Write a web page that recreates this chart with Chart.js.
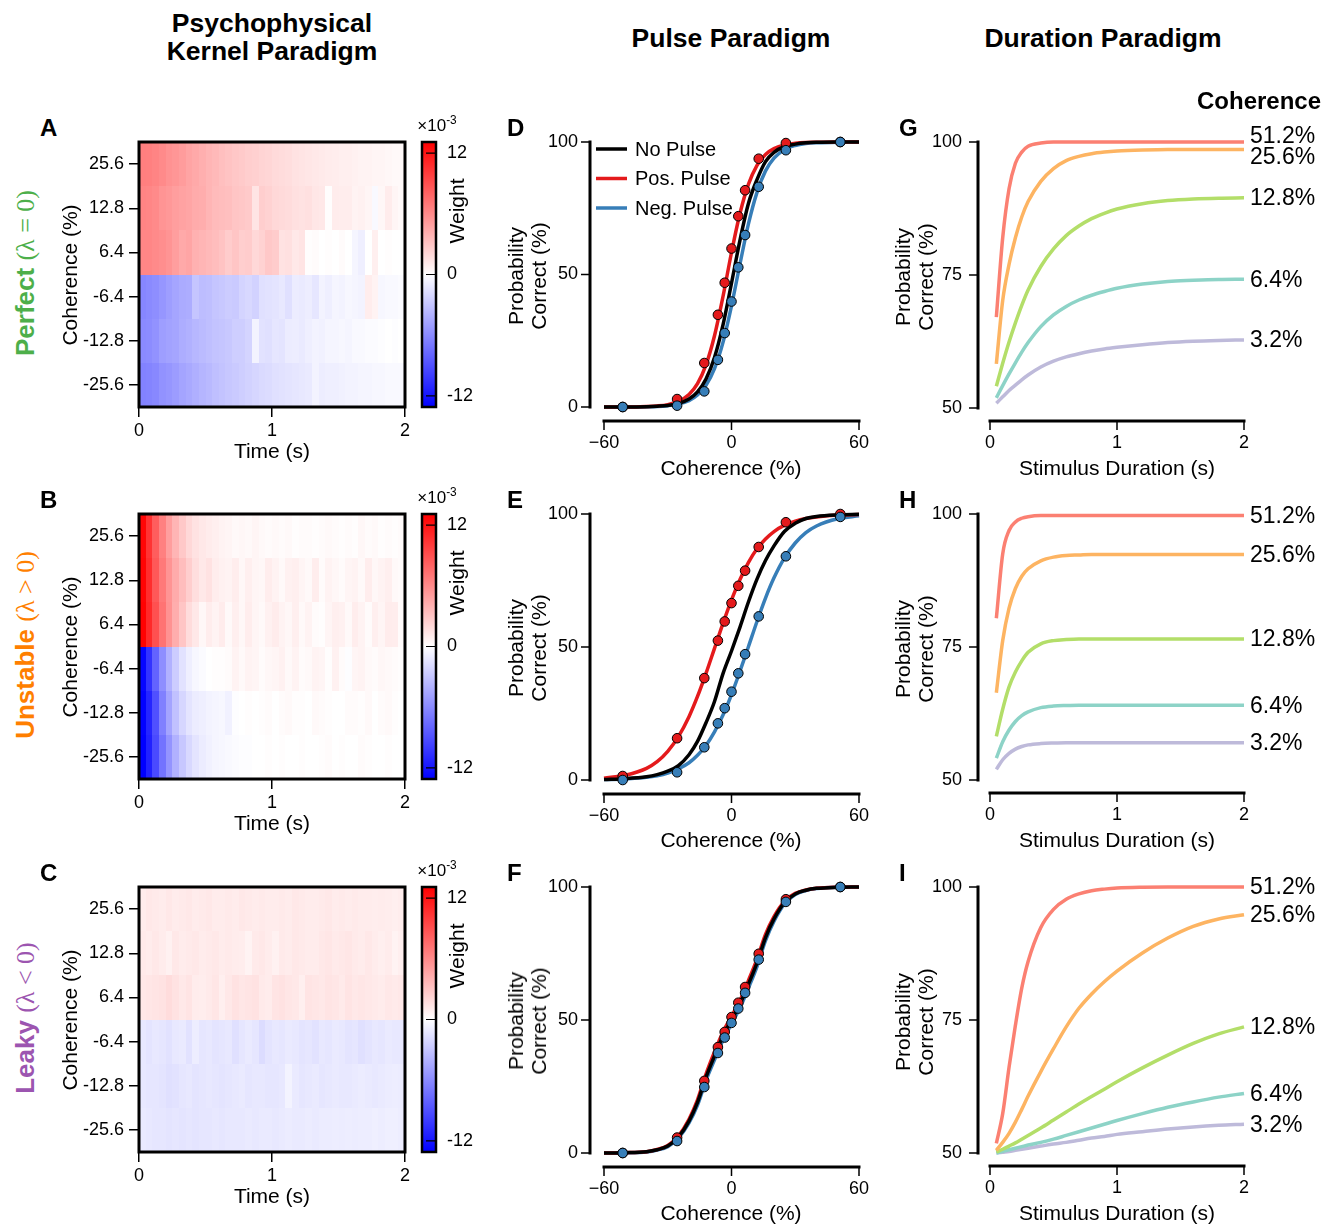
<!DOCTYPE html>
<html><head><meta charset="utf-8">
<script src="https://cdn.jsdelivr.net/npm/chart.js"></script>
<style>
body{margin:0;background:#fff;}
#page{position:relative;width:1329px;height:1224px;font-family:'Liberation Sans',Arial,Helvetica,sans-serif;color:#000;overflow:hidden;background:#fff}
.t{position:absolute;white-space:nowrap;transform:translate(-50%,-50%);line-height:1}
.l{position:absolute;white-space:nowrap;transform:translate(0,-50%);line-height:1}
.r{position:absolute;white-space:nowrap;transform:translate(-50%,-50%) rotate(-90deg);line-height:1;text-align:center}
canvas{position:absolute}
sup{font-size:0.7em;vertical-align:0.55em;line-height:0}
</style></head>
<body><div id="page"></div>
<script>
// ---------------- DATA ----------------
// Heatmap (psychophysical kernel) — weights in units of 1e-3, 40 time bins of 0.05 s
const timeBins = [0,0.05,0.1,0.15,0.2,0.25,0.3,0.35,0.4,0.45,0.5,0.55,0.6,0.65,0.7,0.75,0.8,0.85,0.9,0.95,1.0,1.05,1.1,1.15,1.2,1.25,1.3,1.35,1.4,1.45,1.5,1.55,1.6,1.65,1.7,1.75,1.8,1.85,1.9,1.95];
const binWidth = 0.05;
const heatRowLabels = ['25.6','12.8','6.4','-6.4','-12.8','-25.6'];
const heatRowPos = [2.5,1.5,0.5,-0.5,-1.5,-2.5];
const cbTicks = [12,0,-12];
const cbMax = 13.1;

const perfect256 = [6.6,6.5,6.3,6.0,5.6,5.4,5.1,4.7,4.4,4.1,3.8,3.6,3.3,3.1,2.9,2.7,2.5,2.4,2.2,2.1,1.9,1.8,1.7,1.5,1.4,1.3,1.2,1.1,1.0,0.9,0.8,0.8,0.7,0.6,0.6,0.5,0.5,0.4,0.3,0.3];
const perfect128 = [6.3,6.2,6.0,5.5,5.3,5.0,4.8,4.6,4.3,4.2,3.8,3.5,3.4,3.3,3.0,2.9,2.7,1.4,2.5,2.3,2.0,1.9,1.8,1.6,1.5,1.6,1.3,1.2,0.1,1.0,0.9,0.9,0.6,0.7,0.5,-0.3,0.4,1.0,0.5,0.3];
const perfect64 = [6.2,6.2,6.0,5.8,5.5,5.0,4.4,4.6,4.0,3.8,3.6,3.4,3.1,2.6,3.0,2.5,2.6,2.0,2.3,2.8,2.6,1.5,1.6,1.2,1.4,0.1,0.2,0.0,0.1,0.0,0.2,0.0,-0.5,-0.8,0.0,0.8,0.0,0.1,0.0,0.0];
const perfectM64 = [-6.2,-6.0,-5.8,-5.4,-5.0,-4.6,-4.3,-4.2,-3.0,-3.4,-3.3,-3.0,-2.8,-2.6,-2.7,-2.2,-2.0,-2.3,-1.6,-1.5,-1.4,-1.2,-1.6,-1.0,-1.1,-0.9,-1.3,-0.6,-0.8,-0.5,-0.6,-0.4,-0.5,-0.6,0.9,0.6,-0.4,-0.3,-0.3,-0.2];
const perfectM128 = [-6.0,-5.9,-5.6,-5.0,-4.8,-4.6,-4.2,-4.0,-3.7,-3.5,-3.3,-3.1,-3.0,-2.8,-2.5,-2.5,-2.2,-0.6,-1.5,-1.6,-1.3,-1.4,-1.0,-0.9,-1.1,-0.8,-0.6,-0.7,-0.5,-0.5,-0.4,-0.5,-0.3,-0.3,-0.2,-0.2,-0.1,0.0,-0.1,0.0];
const perfectM256 = [-6.4,-6.3,-6.1,-5.6,-5.4,-5.1,-4.7,-4.4,-4.1,-3.8,-3.6,-3.3,-3.1,-2.9,-2.7,-2.5,-2.3,-2.1,-1.9,-1.8,-1.6,-1.5,-1.4,-1.3,-1.2,-1.1,-0.6,-0.9,-0.8,-0.8,-0.7,-0.6,-0.6,-0.5,-0.5,-0.4,-0.4,-0.3,-0.3,-0.3];

const unstable256 = [12.8,10.5,8.3,6.5,5.0,3.8,2.8,2.0,1.5,1.2,1.0,0.8,0.6,0.5,0.3,0.4,0.3,0.5,0.3,0.2,0.3,0.2,0.3,0.1,0.2,0.2,0.1,0.2,0.3,0.2,0.1,0.2,0.1,0.4,0.2,0.3,0.1,0.2,0.1,0.2];
const unstable128 = [12.9,10.8,8.6,6.9,5.5,4.3,3.4,2.5,1.7,1.2,1.5,0.9,0.7,0.6,0.9,0.4,0.8,0.5,0.4,0.9,0.6,0.3,0.7,0.8,0.5,0.3,0.9,0.2,0.6,0.4,0.2,0.5,0.6,0.3,0.9,0.4,0.6,0.8,0.3,0.2];
const unstable64 = [13.0,11.0,9.0,7.2,5.6,4.2,3.0,1.8,1.2,0.4,0.9,0.6,1.0,0.3,0.8,0.4,0.9,0.5,0.3,0.7,1.0,0.6,0.4,0.8,0.3,0.6,0.2,0.1,0.5,0.8,0.7,0.3,0.9,0.6,0.2,0.8,0.5,1.0,0.9,0.2];
const unstableM64 = [-12.8,-10.5,-8.0,-5.8,-4.0,-2.6,-1.5,-0.8,-0.4,-0.2,0.0,0.1,0.1,0.2,0.6,0.3,0.6,0.5,0.2,0.4,0.5,0.7,0.3,0.6,0.2,0.3,0.6,0.5,0.1,0.7,0.2,-0.1,0.5,0.6,0.3,0.2,0.4,0.3,0.2,0.1];
const unstableM128 = [-13.0,-11.2,-9.0,-6.5,-4.7,-3.2,-2.1,-1.4,-1.0,-0.8,-0.6,-0.5,-0.4,-0.7,-0.1,0.0,0.1,0.0,0.1,0.2,0.0,0.2,0.3,0.1,0.1,0.0,0.3,0.2,0.1,0.0,0.0,0.2,0.2,0.1,0.3,0.0,0.2,0.3,0.1,0.0];
const unstableM256 = [-13.1,-11.4,-9.3,-7.2,-5.5,-4.0,-2.9,-2.0,-1.4,-1.0,-0.7,-0.5,-0.4,-0.3,-0.2,-0.1,-0.1,0.0,0.0,0.1,0.0,0.1,0.0,0.0,0.1,0.0,0.0,0.1,0.2,0.0,0.1,0.0,0.0,0.2,0.1,0.0,0.0,0.1,0.0,0.0];

const leaky256 = [1.0,1.2,1.1,1.0,1.2,1.0,1.1,1.2,1.0,1.1,1.2,1.0,1.0,1.1,1.0,1.2,1.1,1.0,1.1,1.0,1.0,1.1,1.0,1.2,1.1,1.0,1.0,1.1,1.2,1.0,1.1,1.0,1.1,1.0,1.0,0.9,1.0,0.9,0.8,0.9];
const leaky128 = [1.1,1.0,1.2,1.0,0.7,1.2,1.0,1.1,1.2,1.0,1.1,1.2,1.0,1.1,1.0,0.9,0.6,1.1,1.2,1.0,0.7,1.1,1.0,1.2,1.1,1.0,1.0,1.2,1.3,1.1,1.2,1.3,1.1,1.0,1.2,1.0,0.8,1.0,0.6,0.8];
const leaky64 = [1.2,1.3,1.4,1.5,1.8,1.5,1.2,1.4,1.0,0.9,1.1,1.3,0.8,1.2,1.5,1.3,1.4,1.5,1.1,1.0,1.4,1.5,1.3,1.2,0.8,1.4,1.3,1.2,1.4,1.3,1.1,1.4,1.2,1.3,1.2,1.1,1.0,1.2,1.1,1.2];
const leakyM64 = [-1.2,-1.4,-1.2,-1.3,-1.5,-1.2,-1.1,-1.5,-0.9,-1.3,-1.2,-1.4,-1.3,-1.2,-1.6,-1.3,-1.1,-1.3,-1.8,-1.4,-1.2,-1.3,-1.1,-1.2,-1.4,-1.3,-1.5,-1.2,-1.3,-1.1,-1.2,-1.4,-1.3,-1.6,-1.4,-1.2,-1.3,-1.1,-1.2,-1.2];
const leakyM128 = [-1.2,-1.3,-1.3,-1.4,-1.6,-1.5,-1.3,-1.2,-1.4,-1.3,-1.2,-1.3,-1.4,-1.3,-1.2,-1.1,-1.3,-1.2,-1.2,-1.3,-1.3,-1.2,-0.6,-1.1,-1.3,-1.2,-1.1,-1.3,-1.2,-1.1,-1.2,-1.2,-1.1,-1.0,-1.1,-1.2,-1.1,-1.0,-0.9,-1.0];
const leakyM256 = [-1.1,-1.2,-1.3,-1.3,-1.4,-1.3,-1.4,-1.3,-1.4,-1.3,-1.3,-1.2,-1.3,-1.2,-1.2,-1.2,-1.1,-1.2,-1.1,-1.1,-1.2,-1.1,-1.0,-1.1,-1.1,-1.0,-1.1,-1.0,-1.0,-0.9,-1.0,-0.9,-1.0,-0.9,-0.9,-0.8,-0.9,-0.8,-0.8,-0.9];

// Pulse paradigm — psychometric curves (% correct vs coherence)
const cohGrid = [-60,-50,-40,-35,-30,-25,-20,-16,-12,-8,-4,0,4,8,12,16,20,25,30,35,40,50,60];
const dotCoh = [-51.2,-25.6,-12.8,-6.4,-3.2,0,3.2,6.4,12.8,25.6,51.2];
const pulseTicksX = [-60,0,60];
const pulseTicksY = [0,50,100];

const perfectNoPulse = [0,0,0.1,0.3,0.6,1.3,3.0,5.7,10.6,18.7,31.0,46.7,63.0,76.9,85.8,92.6,96.1,98.3,99.2,99.7,99.9,100,100];
const perfectPosPulse = [0,0,0.2,0.4,0.9,2.1,4.7,8.8,15.9,26.9,41.7,58.3,73.1,84.1,91.2,95.3,97.5,98.9,99.5,99.8,99.9,100,100];
const perfectNegPulse = [0,0,0.1,0.2,0.5,1.1,2.4,4.5,8.2,14.5,24.4,38.2,54.0,69.2,81.0,89.1,93.9,97.2,98.7,99.4,99.7,99.95,100];
const perfectPosDots = [0,3.0,16.6,34.8,46.9,59.8,72.0,81.8,93.7,99.6,100];
const perfectNegDots = [0,0.5,5.9,17.8,27.9,39.8,52.7,64.9,83.1,96.9,100];

const unstableNoPulse = [0.2,0.5,1.2,2.0,3.3,5.4,9.5,14.5,21.5,29.5,40.0,48.5,57.5,67.0,75.5,82.5,88.0,93.5,96.5,98.3,99.1,99.7,99.9];
const unstablePosPulse = [0.7,1.8,4.4,6.9,10.8,16.3,23.8,31.4,40.1,49.5,58.9,67.7,75.4,81.8,86.9,90.6,93.4,95.8,97.3,98.3,98.9,99.6,99.8];
const unstableNegPulse = [0.15,0.4,1.0,1.6,2.6,4.2,6.5,9.3,13.0,18.1,24.4,32.1,40.9,50.2,59.6,68.4,76.0,83.6,89.1,93.0,95.5,98.2,99.3];
const unstablePosDots = [1.5,15.7,38.3,52.4,59.6,66.5,73.0,78.7,87.6,96.9,100];
const unstableNegDots = [0,2.9,12.3,21.3,27.0,33.2,40.1,47.3,61.5,84.1,98.9];

const leakyNoPulse = [0,0.1,0.5,1.2,2.6,6.0,12.0,19.0,28.5,36.5,44.0,50.0,56.0,63.5,71.5,81.0,88.0,94.2,97.4,98.8,99.5,99.9,100];
const leakyPosPulse = [0,0.1,0.5,1.3,2.8,6.4,12.7,20.0,29.7,38.0,45.5,51.4,57.4,64.9,72.9,82.2,88.9,94.7,97.6,98.9,99.5,99.9,100];
const leakyNegPulse = [0,0.1,0.4,1.1,2.4,5.6,11.3,18.0,27.3,35.0,42.5,48.6,54.6,62.1,70.1,79.8,87.1,93.7,97.2,98.7,99.4,99.9,100];
const leakyPosDots = [0,5.8,27.1,39.8,45.5,51.1,56.5,62.4,74.9,95.4,100];
const leakyNegDots = [0,4.5,24.8,37.6,43.4,48.9,54.3,60.2,72.7,94.4,100];

// Duration paradigm — % correct vs stimulus duration
const durGrid = [0.05,0.1,0.15,0.2,0.25,0.3,0.4,0.5,0.6,0.7,0.8,0.9,1.0,1.2,1.4,1.6,1.8,2.0];
const durLabels = ['51.2%','25.6%','12.8%','6.4%','3.2%'];
const durTicksX = [0,1,2];
const durTicksY = [50,75,100];

const perfectDur512 = [67.1,82.0,91.2,96.0,98.1,99.2,99.8,100,100,100,100,100,100,100,100,100,100,100];
const perfectDur256 = [58.3,70.2,77.0,82.0,85.9,88.8,92.6,95.0,96.5,97.3,97.8,98.1,98.3,98.5,98.6,98.6,98.6,98.6];
const perfectDur128 = [54.1,58.4,62.4,66.0,69.3,72.2,76.6,79.9,82.4,84.2,85.6,86.6,87.4,88.4,89.0,89.3,89.45,89.5];
const perfectDur64 = [51.9,54.2,56.4,58.5,60.5,62.3,65.3,67.5,69.1,70.3,71.2,71.9,72.5,73.3,73.8,74.0,74.15,74.2];
const perfectDur32 = [50.9,52.1,53.3,54.3,55.3,56.2,57.7,58.8,59.6,60.2,60.7,61.1,61.4,61.9,62.3,62.55,62.7,62.8];

const unstableDur512 = [80.4,92.5,96.9,98.5,99.2,99.5,99.7,99.7,99.7,99.7,99.7,99.7,99.7,99.7,99.7,99.7,99.7,99.7];
const unstableDur256 = [66.4,76.2,82.3,86.0,88.3,89.7,91.2,91.9,92.2,92.3,92.4,92.4,92.4,92.4,92.4,92.4,92.4,92.4];
const unstableDur128 = [58.2,63.3,67.5,70.3,72.4,74.0,75.6,76.2,76.4,76.5,76.5,76.5,76.5,76.5,76.5,76.5,76.5,76.5];
const unstableDur64 = [54.1,57.2,59.4,61.0,62.1,62.8,63.6,63.9,64.0,64.05,64.05,64.05,64.05,64.05,64.05,64.05,64.05,64.05];
const unstableDur32 = [52.0,53.8,55.0,55.8,56.3,56.6,56.85,56.95,57.0,57.0,57.0,57.0,57.0,57.0,57.0,57.0,57.0,57.0];

const leakyDur512 = [51.8,57.4,66.1,74.0,81.0,86.0,92.4,95.8,97.7,98.7,99.3,99.6,99.8,99.95,100,100,100,100];
const leakyDur256 = [50.5,52.0,53.7,55.8,58.2,60.7,65.3,69.6,73.7,77.2,79.9,82.2,84.2,87.6,90.4,92.6,94.0,94.8];
const leakyDur128 = [50.2,50.7,51.3,51.9,52.6,53.3,54.7,56.2,57.7,59.2,60.6,62.0,63.4,66.0,68.4,70.6,72.4,73.7];
const leakyDur64 = [50.0,50.3,50.6,50.9,51.2,51.5,52.0,52.6,53.3,54.0,54.7,55.4,56.1,57.4,58.6,59.6,60.5,61.2];
const leakyDur32 = [50.0,50.15,50.3,50.5,50.7,50.9,51.3,51.7,52.0,52.4,52.8,53.1,53.5,54.0,54.5,54.9,55.2,55.4];

// ---------------- STYLE ----------------
const RED = '#e41a1c', BLUE = '#377eb8';
const durColors = ['#fb8072','#fdb462','#b3de69','#8dd3c7','#bebada'];
const FONT = "'Liberation Sans', Arial, Helvetica, sans-serif";
Chart.defaults.font.family = FONT;
Chart.defaults.color = '#000';
Chart.defaults.animation = false;
Chart.defaults.plugins.legend.display = false;
Chart.defaults.plugins.tooltip.enabled = false;

const page = document.getElementById('page');
function mkCanvas(x, y, w, h) {
  const c = document.createElement('canvas');
  c.width = w; c.height = h;
  c.style.left = x + 'px'; c.style.top = y + 'px';
  c.style.width = w + 'px'; c.style.height = h + 'px';
  page.appendChild(c);
  return c.getContext('2d');
}
function txt(html, x, y, css, cls) {
  const d = document.createElement('div');
  d.className = cls || 't';
  d.innerHTML = html;
  d.style.cssText += 'left:' + x + 'px;top:' + y + 'px;' + (css || '');
  page.appendChild(d);
  return d;
}
function cmap(v) {
  const f = Math.min(1, Math.abs(v) / cbMax);
  const c = Math.round(255 * (1 - f));
  return v >= 0 ? `rgb(255,${c},${c})` : `rgb(${c},${c},255)`;
}
const pts = (xs, ys) => xs.map((x, i) => ({x: x, y: ys[i]}));
const fixedTicks = arr => function(s) { s.ticks = arr.map(v => ({value: v})); };
const fitV = w => function(s) { s.width = w; s.paddingTop = 0; s.paddingBottom = 0; };
const fitH = h => function(s) { s.height = h; s.paddingLeft = 0; s.paddingRight = 0; };

// ---------------- HEATMAPS ----------------
function heatmap(x0, y0, rows) {
  const ctx = mkCanvas(x0, y0, 405, 322);
  const heat = {
    id: 'heat',
    beforeDatasetsDraw(chart) {
      const c = chart.ctx, xs = chart.scales.x, ys = chart.scales.y;
      c.save();
      rows.forEach((row, r) => {
        const yt = Math.round(ys.getPixelForValue(heatRowPos[r] + 0.5));
        const yb = Math.round(ys.getPixelForValue(heatRowPos[r] - 0.5));
        row.forEach((v, i) => {
          const xl = Math.round(xs.getPixelForValue(timeBins[i]));
          const xr = Math.round(xs.getPixelForValue(timeBins[i] + binWidth));
          c.fillStyle = cmap(v);
          c.fillRect(xl, yt, xr - xl, yb - yt);
        });
      });
      c.restore();
    },
    afterDraw(chart) {
      const c = chart.ctx, a = chart.chartArea, cb = chart.scales.cb;
      c.save();
      c.strokeStyle = '#000';
      c.lineWidth = 3;
      c.strokeRect(a.left, a.top, a.right - a.left, a.bottom - a.top);
      // colorbar
      const bl = a.right + 17, bw = 14;
      const bt = cb.getPixelForValue(cb.max), bb = cb.getPixelForValue(cb.min);
      const g = c.createLinearGradient(0, bt, 0, bb);
      g.addColorStop(0, cmap(cbMax)); g.addColorStop(0.5, cmap(0)); g.addColorStop(1, cmap(-cbMax));
      c.fillStyle = g;
      c.fillRect(bl, bt, bw, bb - bt);
      c.lineWidth = 1.2;
      c.beginPath();
      cb.ticks.forEach(t => { const y = cb.getPixelForValue(t.value); c.moveTo(bl + 4, y); c.lineTo(bl + bw, y); });
      c.stroke();
      c.lineWidth = 2.5;
      c.strokeRect(bl, bt, bw, bb - bt);
      c.restore();
    }
  };
  new Chart(ctx, {
    type: 'scatter',
    data: {datasets: [{data: []}]},
    options: {
      responsive: false, devicePixelRatio: 1,
      layout: {padding: {top: 17, right: 0, left: 0, bottom: 0}},
      scales: {
        x: {type: 'linear', min: 0, max: 2, afterFit: fitH(40), afterBuildTicks: fixedTicks([0,1,2]),
            ticks: {font: {size: 18}, padding: 3, maxRotation: 0, callback: v => String(v)},
            grid: {display: true, drawOnChartArea: false, drawTicks: true, tickLength: 10, color: '#000', lineWidth: 1.5},
            border: {display: false}},
        y: {type: 'linear', min: -3, max: 3, afterFit: fitV(69), afterBuildTicks: fixedTicks(heatRowPos),
            ticks: {font: {size: 18}, padding: 5, callback: v => heatRowLabels[heatRowPos.indexOf(v)]},
            grid: {display: true, drawOnChartArea: false, drawTicks: true, tickLength: 10, color: '#000', lineWidth: 1.5},
            border: {display: false}},
        cb: {type: 'linear', position: 'right', min: -cbMax, max: cbMax, afterFit: fitV(70), afterBuildTicks: fixedTicks(cbTicks),
            ticks: {font: {size: 18}, padding: 42, callback: v => String(v)},
            grid: {display: false, drawTicks: false}, border: {display: false}}
      }
    },
    plugins: [heat]
  });
}

// ---------------- STANDOFF AXES ----------------
function standoff(gapY, gapX) {
  return {
    id: 'standoff',
    afterDraw(chart) {
      const c = chart.ctx, xs = chart.scales.x, ys = chart.scales.y, a = chart.chartArea;
      const ax = a.left - gapY, ay = a.bottom + gapX;
      c.save();
      c.strokeStyle = '#000';
      c.lineWidth = 3; c.lineCap = 'square';
      c.beginPath();
      c.moveTo(ax, ys.getPixelForValue(ys.min)); c.lineTo(ax, ys.getPixelForValue(ys.max));
      c.moveTo(xs.getPixelForValue(xs.min), ay); c.lineTo(xs.getPixelForValue(xs.max), ay);
      c.stroke();
      c.lineWidth = 1.5; c.lineCap = 'butt';
      c.beginPath();
      ys.ticks.forEach(t => { const y = ys.getPixelForValue(t.value); c.moveTo(ax, y); c.lineTo(ax - 9, y); });
      xs.ticks.forEach(t => { const x = xs.getPixelForValue(t.value); c.moveTo(x, ay); c.lineTo(x, ay + 9); });
      c.stroke();
      c.restore();
    }
  };
}

// ---------------- PULSE PANELS ----------------
const legendItems = [['No Pulse', '#000'], ['Pos. Pulse', RED], ['Neg. Pulse', BLUE]];
const pulseLegend = {
  id: 'pulseLegend',
  afterDraw(chart) {
    const c = chart.ctx, a = chart.chartArea;
    c.save();
    c.font = '20px ' + FONT; c.textBaseline = 'middle'; c.fillStyle = '#000';
    legendItems.forEach((it, i) => {
      const y = a.top + 7 + i * 29.5, x = a.left - 8;
      c.strokeStyle = it[1]; c.lineWidth = 3.5;
      c.beginPath(); c.moveTo(x, y); c.lineTo(x + 31, y); c.stroke();
      c.fillText(it[0], x + 39, y + 1);
    });
    c.restore();
  }
};
function pulse(y0, h, noP, posP, negP, posD, negD, withLegend) {
  const ctx = mkCanvas(500, y0, 379, h);
  const line = (d, col) => ({data: pts(cohGrid, d), borderColor: col, borderWidth: 3.5, pointRadius: 0, cubicInterpolationMode: 'monotone', fill: false, clip: false});
  const dots = (d, col) => ({data: pts(dotCoh, d), showLine: false, pointRadius: 4.8, pointBackgroundColor: col, pointBorderColor: '#000', pointBorderWidth: 1, clip: false});
  const plugins = [standoff(14, 14)];
  if (withLegend) plugins.push(pulseLegend);
  new Chart(ctx, {
    type: 'line',
    data: {datasets: [dots(negD, BLUE), dots(posD, RED), line(noP, '#000'), line(posP, RED), line(negP, BLUE)]},
    options: {
      responsive: false, devicePixelRatio: 1,
      layout: {padding: {top: 17, right: 20, left: 0, bottom: 0}},
      scales: {
        x: {type: 'linear', min: -60, max: 60, afterFit: fitH(50), afterBuildTicks: fixedTicks(pulseTicksX),
            ticks: {font: {size: 18}, padding: 25, maxRotation: 0, callback: v => v < 0 ? '\u2212' + Math.abs(v) : String(v)},
            grid: {display: false, drawTicks: false}, border: {display: false}},
        y: {type: 'linear', min: 0, max: 100, afterFit: fitV(104), afterBuildTicks: fixedTicks(pulseTicksY),
            ticks: {font: {size: 18}, padding: 26, callback: v => String(v)},
            grid: {display: false, drawTicks: false}, border: {display: false}}
      }
    },
    plugins: plugins
  });
}

// ---------------- DURATION PANELS ----------------
const durLabelPlugin = {
  id: 'durLabels',
  afterDatasetsDraw(chart) {
    const c = chart.ctx, a = chart.chartArea;
    const ys = chart.data.datasets.map((ds, i) => {
      const m = chart.getDatasetMeta(i);
      return m.data[m.data.length - 1].y;
    });
    const pos = ys.slice();
    for (let k = 0; k < 4; k++) {
      for (let i = 1; i < pos.length; i++) {
        if (pos[i] - pos[i - 1] < 21) {
          const mid = (pos[i] + pos[i - 1]) / 2;
          pos[i - 1] = mid - 10.5; pos[i] = mid + 10.5;
        }
      }
    }
    c.save();
    c.font = '23px ' + FONT; c.textBaseline = 'middle'; c.fillStyle = '#000';
    pos.forEach((y, i) => c.fillText(durLabels[i], a.right + 6, y + 1));
    c.restore();
  }
};
function duration(y0, series) {
  const ctx = mkCanvas(880, y0, 449, 353);
  new Chart(ctx, {
    type: 'line',
    data: {datasets: series.map((d, i) => ({data: pts(durGrid, d), borderColor: durColors[i], borderWidth: 3.5, pointRadius: 0, cubicInterpolationMode: 'monotone', fill: false, clip: false}))},
    options: {
      responsive: false, devicePixelRatio: 1,
      layout: {padding: {top: 37, right: 85, left: 0, bottom: 0}},
      scales: {
        x: {type: 'linear', min: 0, max: 2, afterFit: fitH(50), afterBuildTicks: fixedTicks(durTicksX),
            ticks: {font: {size: 18}, padding: 24, maxRotation: 0, callback: v => String(v)},
            grid: {display: false, drawTicks: false}, border: {display: false}},
        y: {type: 'linear', min: 50, max: 100, afterFit: fitV(110), afterBuildTicks: fixedTicks(durTicksY),
            ticks: {font: {size: 18}, padding: 28, callback: v => String(v)},
            grid: {display: false, drawTicks: false}, border: {display: false}}
      }
    },
    plugins: [standoff(12, 13), durLabelPlugin]
  });
}

// ---------------- BUILD ----------------
heatmap(70, 125, [perfect256, perfect128, perfect64, perfectM64, perfectM128, perfectM256]);
heatmap(70, 497, [unstable256, unstable128, unstable64, unstableM64, unstableM128, unstableM256]);
heatmap(70, 870, [leaky256, leaky128, leaky64, leakyM64, leakyM128, leakyM256]);

pulse(125, 332, perfectNoPulse, perfectPosPulse, perfectNegPulse, perfectPosDots, perfectNegDots, true);
pulse(497, 333, unstableNoPulse, unstablePosPulse, unstableNegPulse, unstablePosDots, unstableNegDots, false);
pulse(870, 333, leakyNoPulse, leakyPosPulse, leakyNegPulse, leakyPosDots, leakyNegDots, false);

duration(105, [perfectDur512, perfectDur256, perfectDur128, perfectDur64, perfectDur32]);
duration(477, [unstableDur512, unstableDur256, unstableDur128, unstableDur64, unstableDur32]);
duration(850, [leakyDur512, leakyDur256, leakyDur128, leakyDur64, leakyDur32]);

// ---------------- TEXT ----------------
const B26 = 'font-weight:bold;font-size:26.5px;';
txt('Psychophysical', 272, 23, B26);
txt('Kernel Paradigm', 272, 51, B26);
txt('Pulse Paradigm', 731, 38, B26);
txt('Duration Paradigm', 1103, 38, B26);
txt('Coherence', 1259, 101, 'font-weight:bold;font-size:24px;');

const rowOff = [0, 372, 745];
const rowNames = [
  ['Perfect', '(\u03bb = 0)', '#4daf4a'],
  ['Unstable', '(\u03bb &gt; 0)', '#ff7f00'],
  ['Leaky', '(\u03bb &lt; 0)', '#9c55b0']
];
const letters = [['A','D','G'], ['B','E','H'], ['C','F','I']];
rowOff.forEach((o, r) => {
  const L = 'font-weight:bold;font-size:24px;';
  txt(letters[r][0], 40, 128 + o, L, 'l');
  txt(letters[r][1], 507, 128 + o, L, 'l');
  txt(letters[r][2], 899, 128 + o, L, 'l');
  txt('<span style="font-weight:bold;font-family:\'Liberation Sans\',Arial,sans-serif">' + rowNames[r][0] + '</span> <span style="font-family:\'Liberation Serif\',\'Times New Roman\',serif">' + rowNames[r][1] + '</span>',
      25, 273 + o, 'font-size:26px;color:' + rowNames[r][2] + ';', 'r');
  txt('Coherence (%)', 69, 275 + o, 'font-size:21px;', 'r');
  txt('Time (s)', 272, 450 + o, 'font-size:21px;');
  txt('\u00d710<sup>-3</sup>', 437, 125 + o, 'font-size:17px;');
  txt('Weight', 456, 211 + o, 'font-size:21px;', 'r');
  txt('Probability<br>Correct (%)', 527, 276 + o, 'font-size:21px;line-height:23px;', 'r');
  txt('Coherence (%)', 731, 467 + o, 'font-size:21px;');
  txt('Probability<br>Correct (%)', 914, 277 + o, 'font-size:21px;line-height:23px;', 'r');
  txt('Stimulus Duration (s)', 1117, 467 + o, 'font-size:21px;');
});
</script>
</body></html>
